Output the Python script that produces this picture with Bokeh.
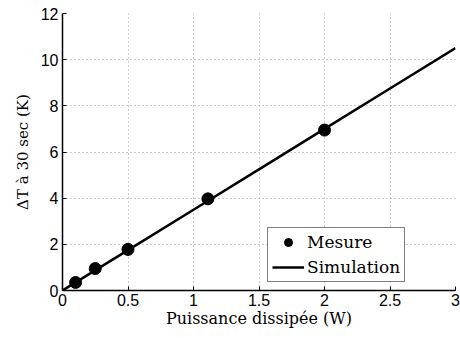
from bokeh.plotting import figure
from bokeh.models import Legend, LegendItem, Range1d, FixedTicker
from bokeh.embed import file_html
from bokeh.resources import INLINE

# Data
mesure_x = [0.1, 0.25, 0.5, 1.11, 2.0]
mesure_y = [0.35, 0.95, 1.78, 3.97, 6.95]
sim_x = [0.0, 0.5, 1.0, 1.5, 2.0, 2.5, 3.0]
sim_y = [0.0, 1.75, 3.5, 5.25, 7.0, 8.75, 10.5]
x_ticks = [0, 0.5, 1, 1.5, 2, 2.5, 3]
y_ticks = [0, 2, 4, 6, 8, 10, 12]

p = figure(width=460, height=338, output_backend="svg", toolbar_location=None,
           x_range=Range1d(0, 3), y_range=Range1d(0, 12),
           min_border_left=62, min_border_right=5, min_border_top=13, min_border_bottom=48)
p.outline_line_color = None

sim = p.line(sim_x, sim_y, line_color="black", line_width=2.5)
mes = p.scatter(mesure_x, mesure_y, size=12, fill_color="black", line_color="black")

for ax in (p.xaxis[0], p.yaxis[0]):
    ax.major_tick_in = 4
    ax.major_tick_out = 0
    ax.minor_tick_in = 0
    ax.minor_tick_out = 0
    ax.axis_line_color = "black"
    ax.axis_line_width = 1.5
    ax.major_label_text_font = "Liberation Sans"
    ax.major_label_text_font_size = "16px"
    ax.major_label_text_color = "black"
    ax.axis_label_text_font = "DejaVu Serif"
    ax.axis_label_text_font_style = "normal"
    ax.axis_label_text_color = "black"

p.xaxis.axis_label_text_font_size = "16px"
p.yaxis.axis_label_text_font_size = "15px"
p.xaxis.ticker = FixedTicker(ticks=x_ticks)
p.yaxis.ticker = FixedTicker(ticks=y_ticks)
p.xaxis.axis_label = "Puissance dissipée (W)"
p.yaxis.axis_label = "ΔT à 30 sec (K)"
p.xaxis.major_label_standoff = 3
p.yaxis.major_label_standoff = 4
p.xaxis.axis_label_standoff = 0
p.yaxis.axis_label_standoff = 6

p.grid.grid_line_color = "#999999"
p.grid.grid_line_dash = "1 3"
p.grid.grid_line_width = 1

legend = Legend(items=[LegendItem(label="Mesure", renderers=[mes]),
                       LegendItem(label="Simulation", renderers=[sim])],
                location=(205, 8))
legend.label_text_font = "DejaVu Serif"
legend.label_text_font_size = "17px"
legend.label_text_color = "black"
legend.glyph_width = 32
legend.glyph_height = 20
legend.label_height = 20
legend.label_standoff = 3
legend.spacing = 5
legend.padding = 4
legend.margin = 0
legend.border_line_color = "black"
legend.border_line_width = 1.5
legend.background_fill_alpha = 1
p.add_layout(legend, "center")

open("out.html", "w").write(file_html(p, INLINE))
